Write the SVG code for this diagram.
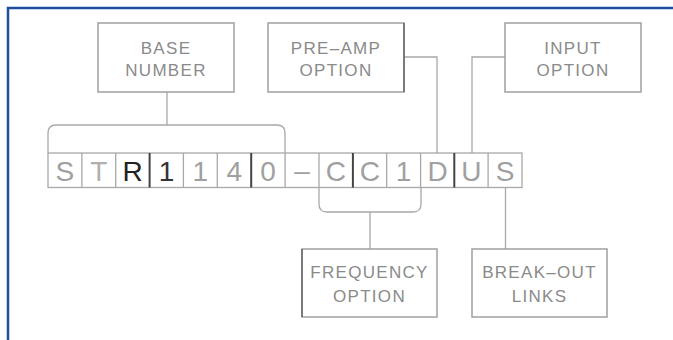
<svg xmlns="http://www.w3.org/2000/svg" width="673" height="340" viewBox="0 0 673 340">
<style>
.box{fill:#fff;stroke:#a0a0a0;stroke-width:1.5}
.lbl{font-family:"Liberation Sans",Arial,sans-serif;font-size:17px;fill:#8a8a8a;letter-spacing:1.3px;text-anchor:middle}
.cell{font-family:"Liberation Sans",Arial,sans-serif;font-size:28px;fill:#a0a0a0;text-anchor:middle}
.ln{fill:none;stroke:#a8a8a8;stroke-width:1.3}
.dk{stroke:#444;stroke-width:2}
</style>
<rect x="0" y="0" width="673" height="340" fill="#fff"/>
<path d="M8,340 V8 H673" fill="none" stroke="#1d4f9c" stroke-width="2.5"/>
<g id="connectors">
<path class="ln" d="M48,153 V133 Q48,125 56,125 H277 Q285,125 285,133 V153"/>
<path class="ln" d="M167,92 V125"/>
<path class="ln" d="M319,187 V204 Q319,212 327,212 H413 Q421,212 421,204 V187"/>
<path class="ln" d="M370,212 V249"/>
<path class="ln" d="M404,57 H437 V153"/>
<path class="ln" d="M505,57 H472 V153"/>
<path class="ln" d="M505.5,187 V249" stroke="#555" stroke-width="1.6"/>
</g>
<g id="code">
<rect x="48" y="153" width="474" height="34.5" fill="#fff" stroke="#a8a8a8" stroke-width="1.3"/>
<g class="ln">
<path d="M81.9,153 V187.5 M115.7,153 V187.5 M183.4,153 V187.5 M217.3,153 V187.5 M285.1,153 V187.5 M319,153 V187.5 M386.7,153 V187.5 M420.6,153 V187.5 M488.1,153 V187.5"/>
</g>
<path class="dk" d="M149.6,153 V187.5 M251.2,153 V187.5 M352.9,153 V187.5 M454.3,153 V187.5" stroke-width="1.8"/>
<text class="cell" x="64.9" y="181" fill="#b0b0b0">S</text>
<text class="cell" x="98.8" y="181" style="fill:#b0b0b0">T</text>
<text class="cell" x="132.6" y="181" style="fill:#222">R</text>
<text class="cell" x="166.5" y="181" style="fill:#333">1</text>
<text class="cell" x="200.4" y="181">1</text>
<text class="cell" x="234.3" y="181">4</text>
<text class="cell" x="268.1" y="181">0</text>
<text class="cell" x="302" y="180">–</text>
<text class="cell" x="335.9" y="181">C</text>
<text class="cell" x="369.8" y="181">C</text>
<text class="cell" x="403.6" y="181">1</text>
<text class="cell" x="437.5" y="181">D</text>
<text class="cell" x="471.4" y="181">U</text>
<text class="cell" x="505.2" y="181">S</text>
</g>
<g id="base-number">
<rect class="box" x="98" y="23" width="136" height="69"/>
<text class="lbl" x="166" y="54">BASE</text>
<text class="lbl" x="166" y="76">NUMBER</text>
</g>
<g id="pre-amp-option">
<rect class="box" x="268" y="23" width="136" height="69"/>
<path d="M404,23 V92" stroke="#666" stroke-width="1.5"/>
<text class="lbl" x="336" y="54">PRE–AMP</text>
<text class="lbl" x="336" y="76">OPTION</text>
</g>
<g id="input-option">
<rect class="box" x="505" y="23" width="136" height="69"/>
<text class="lbl" x="573" y="54">INPUT</text>
<text class="lbl" x="573" y="76">OPTION</text>
</g>
<g id="frequency-option">
<rect class="box" x="302" y="249" width="135" height="68"/>
<path d="M302,249 V317" stroke="#666" stroke-width="1.5"/>
<text class="lbl" x="369.5" y="278">FREQUENCY</text>
<text class="lbl" x="369.5" y="302">OPTION</text>
</g>
<g id="break-out-links">
<rect class="box" x="472" y="249" width="135" height="68"/>
<text class="lbl" x="539.5" y="278">BREAK–OUT</text>
<text class="lbl" x="539.5" y="302">LINKS</text>
</g>
</svg>
